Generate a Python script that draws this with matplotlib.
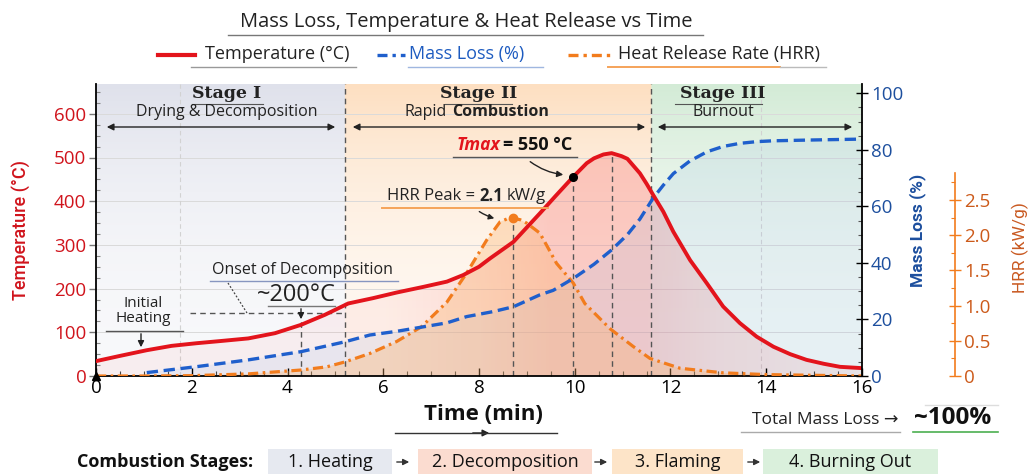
import numpy as np
import matplotlib
matplotlib.use("Agg")
import matplotlib.pyplot as plt
from matplotlib.ticker import MultipleLocator, FixedLocator, FixedFormatter
from matplotlib.patches import Rectangle, Polygon, FancyArrowPatch
from matplotlib.lines import Line2D

# ---------------- data ----------------
time_temp = [0.0, 0.5, 1.06, 1.58, 2.1, 2.6, 3.18, 3.74, 4.28, 4.78, 5.27, 5.78, 6.28,
             6.84, 7.33, 7.67, 8.0, 8.23, 8.72, 9.27, 9.6, 9.97, 10.25, 10.4, 10.6, 10.77,
             10.98, 11.1, 11.36, 11.5, 11.64, 11.85, 12.06, 12.41, 12.76, 13.1, 13.45,
             13.8, 14.15, 14.5, 14.84, 15.2, 15.54, 16.0]
temperature = [34, 46, 59, 69, 75, 80, 86, 98, 117, 140, 166, 178, 191,
               204, 216, 231, 250, 269, 307, 372, 412, 456, 487, 498, 507, 510,
               503, 497, 464, 440, 414, 376, 330, 265, 212, 159, 121,
               90, 67, 50, 37, 28, 21, 18]

time_mass = [1.06, 2.1, 3.18, 4.28, 5.2, 5.72, 6.28, 6.77, 7.33, 7.74, 8.3, 8.72, 9.27,
             9.55, 9.97, 10.4, 10.77, 11.1, 11.36, 11.64, 11.85, 12.06, 12.4, 12.76, 13.1,
             13.45, 13.8, 14.15, 15.0, 16.0]
mass_loss = [1.2, 3.3, 5.7, 8.6, 12.1, 14.5, 15.8, 17.2, 18.8, 21.0, 22.8, 24.5, 28.7,
             30.3, 34.5, 39.5, 44.6, 50.0, 55.5, 63.0, 67.5, 71.6, 76.0, 79.3, 81.2,
             82.3, 82.9, 83.2, 83.5, 83.8]

time_hrr = [0.0, 1.0, 2.0, 3.18, 4.28, 4.82, 5.2, 5.72, 6.28, 6.8, 7.33, 7.74, 8.16,
            8.44, 8.58, 8.72, 8.86, 9.0, 9.27, 9.41, 9.62, 9.97, 10.21, 10.74, 11.22,
            11.57, 12.2, 13.1, 14.0, 15.0, 16.0]
hrr = [0.0, 0.0, 0.005, 0.03, 0.085, 0.13, 0.2, 0.32, 0.49, 0.7, 1.05, 1.46, 1.93,
       2.19, 2.23, 2.24, 2.22, 2.17, 2.03, 1.86, 1.6, 1.32, 1.03, 0.67, 0.42,
       0.25, 0.11, 0.045, 0.02, 0.01, 0.0]

stage_bounds = [5.2, 11.6]
stage_titles = ["Stage I", "Stage II", "Stage III"]
stage_subtitles = ["Drying & Decomposition", "Rapid Combustion", "Burnout"]
temp_ticks = [0, 100, 200, 300, 400, 500, 600]
mass_ticks = [0, 20, 40, 60, 80, 100]
hrr_ticks = [0, 0.5, 1.0, 1.5, 2.0, 2.5]
hrr_tick_labels = ["0", "0.5", "1.0", "1.5", "2.0", "2.5"]
time_ticks = [0, 2, 4, 6, 8, 10, 12, 14, 16]
onset_time = 4.28
onset_temp = 144
tmax_mark_time = 9.97
bottom_steps = ["1. Heating", "2. Decomposition", "3. Flaming", "4. Burning Out"]

# ---------------- style ----------------
FONT = "Open Sans"
plt.rcParams["font.family"] = [FONT, "DejaVu Sans"]
RED = "#e3141c"
BLUE = "#1f5fcc"
ORANGE = "#f27c1d"
W, H = 1032, 474

fig = plt.figure(figsize=(W / 100, H / 100), dpi=100)
fig.patch.set_facecolor("white")
renderer = fig.canvas.get_renderer()


def F(x, y):
    return (x / W, 1 - y / H)


def ftext(x, y, s, **kw):
    ha = kw.pop("ha", "center")
    va = kw.pop("va", "center")
    return fig.text(*F(x, y), s, ha=ha, va=va, **kw)


def frun(x, y, parts, gap=4, **common):
    for s, kw in parts:
        t = ftext(x, y, s, ha="left", **common, **kw)
        x += t.get_window_extent(renderer=renderer).width + gap


def fline(x1, y1, x2, y2, **kw):
    fig.add_artist(Line2D([x1 / W, x2 / W], [1 - y1 / H, 1 - y2 / H],
                          transform=fig.transFigure, **kw))


def farrow(x1, y1, x2, y2, style="-|>", rad=0.0, **kw):
    fig.add_artist(FancyArrowPatch(
        F(x1, y1), F(x2, y2), transform=fig.transFigure, arrowstyle=style,
        connectionstyle=f"arc3,rad={rad}", **kw))


ax = fig.add_axes([96 / W, 1 - 376 / H, 766 / W, 292 / H])
ax2 = ax.twinx()
ax3 = ax.twinx()
T_MAX = 292 / 0.437
M_MAX = 292 / 2.827
H_MAX = 292 / 70.4

# ---------------- stage background gradients ----------------
nx, ny = 800, 200
tt = np.linspace(0, 16, nx)
fr = np.linspace(0, 1, ny)[:, None]
stage_cols = [np.array([0.875, 0.885, 0.925]),
              np.array([0.995, 0.875, 0.76]),
              np.array([0.83, 0.925, 0.84])]
col = np.where(tt[:, None] < stage_bounds[0], stage_cols[0],
               np.where(tt[:, None] < stage_bounds[1], stage_cols[1], stage_cols[2]))
bg = np.ones((ny, nx, 4))
bg[:, :, :3] = col[None, :, :]
bg[:, :, 3] = 0.22 + 0.78 * fr ** 2.2
ax.imshow(bg, extent=[0, 16, 0, T_MAX], origin="lower", aspect="auto",
          zorder=0, interpolation="bilinear")

# faint grid
for v in temp_ticks[1:]:
    ax.axhline(v, color="#dadada", lw=0.7, zorder=0.5)
for v in [1.75, 13.9]:
    ax.axvline(v, color="#d2d2d2", lw=0.8, ls=(0, (4, 3)), zorder=0.5)

# ---------------- fills ----------------
tg = np.zeros((ny, nx, 4))
tg[:, :, 0], tg[:, :, 1], tg[:, :, 2] = 0.97, 0.45, 0.45
tg[:, :, 3] = np.interp(tt, [0, 6, 8, 9.5, 11.5, 13, 16],
                        [0.08, 0.08, 0.18, 0.32, 0.32, 0.22, 0.12])[None, :]
im_t = ax.imshow(tg, extent=[0, 16, 0, T_MAX], origin="lower", aspect="auto",
                 zorder=1, interpolation="bilinear")
poly_t = Polygon(np.column_stack([time_temp + [16, 0], temperature + [0, 0]]),
                 closed=True, fc="none", ec="none", transform=ax.transData)
ax.add_patch(poly_t)
im_t.set_clip_path(poly_t)

ax.add_patch(Polygon(np.column_stack([time_mass + [16, time_mass[0]], mass_loss + [0, 0]]),
                     closed=True, fc="#8fb5e8", ec="none", alpha=0.14,
                     transform=ax2.transData, zorder=1.5))
ax.add_patch(Polygon(np.column_stack([time_hrr + [16, 0], hrr + [0, 0]]),
                     closed=True, fc="#fbb26b", ec="none", alpha=0.33,
                     transform=ax3.transData, zorder=1.6))

# ---------------- guide lines ----------------
GUIDE = dict(color="#555555", lw=1.0, ls=(0, (4, 3)), zorder=2)
for b in stage_bounds:
    ax.plot([b, b], [0, T_MAX], **GUIDE)
i_h = int(np.argmax(hrr))
t_hpk, h_pk = time_hrr[i_h], hrr[i_h]
ax.plot([t_hpk, t_hpk], [0, h_pk], transform=ax3.transData, **GUIDE)
T_mark = float(np.interp(tmax_mark_time, time_temp, temperature))
ax.plot([tmax_mark_time] * 2, [0, T_mark], **GUIDE)
i_t = int(np.argmax(temperature))
ax.plot([time_temp[i_t]] * 2, [0, temperature[i_t]], **GUIDE)
ax.plot([onset_time] * 2, [0, 125], **GUIDE)
ax.plot([1.96, stage_bounds[0]], [onset_temp, onset_temp], **GUIDE)

# ---------------- curves ----------------
ax.plot(time_hrr, hrr, color=ORANGE, lw=2.3, dashes=(3.2, 1.4, 0.8, 1.4),
        transform=ax3.transData, zorder=5)
ax.plot(time_mass, mass_loss, color=BLUE, lw=2.4, dashes=(3.4, 1.7),
        transform=ax2.transData, zorder=5)
ax.plot(time_temp, temperature, color=RED, lw=2.8, zorder=6,
        solid_capstyle="round", solid_joinstyle="round")
ax.plot([t_hpk], [h_pk], "o", color=ORANGE, ms=6, transform=ax3.transData, zorder=7)
ax.plot([tmax_mark_time], [T_mark], "o", color="black", ms=5.5, zorder=7)

# ---------------- axes / limits / ticks ----------------
ax.set_xlim(0, 16)
ax.set_ylim(0, T_MAX)
ax2.set_ylim(0, M_MAX)
ax3.set_ylim(0, H_MAX)

for s in ["top", "right"]:
    ax.spines[s].set_visible(False)
for s in ["left", "bottom"]:
    ax.spines[s].set_color("black")
    ax.spines[s].set_linewidth(1.3)
for s in ["left", "top", "bottom"]:
    ax2.spines[s].set_visible(False)
    ax3.spines[s].set_visible(False)
ax2.spines["right"].set_color("black")
ax2.spines["right"].set_linewidth(1.3)
ax3.spines["right"].set_position(("axes", (955 - 96) / 766))
ax3.spines["right"].set_color(ORANGE)
ax3.spines["right"].set_linewidth(1.2)
ax3.spines["right"].set_bounds(0, 2.88)
ax.plot([0], [1.0], marker="^", color="black", ms=6, transform=ax.get_yaxis_transform(),
        clip_on=False, zorder=10)

ax.set_xticks(time_ticks)
ax.xaxis.set_minor_locator(MultipleLocator(0.5))
ax.tick_params(axis="x", which="major", direction="in", length=6, width=1,
               labelsize=13.5, pad=2, colors="black")
ax.tick_params(axis="x", which="minor", direction="in", length=3.5, width=0.8, color="#444")

ax.set_yticks(temp_ticks)
ax.yaxis.set_minor_locator(MultipleLocator(25))
ax.tick_params(axis="y", which="major", direction="out", length=5, width=1,
               color="#777777", labelcolor="#d0141c", labelsize=13.5, pad=2)
ax.tick_params(axis="y", which="minor", direction="in", length=3, width=0.8, color="#888")

ax2.set_yticks(mass_ticks)
ax2.yaxis.set_minor_locator(MultipleLocator(5))
ax2.tick_params(axis="y", which="major", direction="inout", length=9, width=1,
                color="black", labelcolor="#1d4f9e", labelsize=13.5, pad=2)
ax2.tick_params(axis="y", which="minor", direction="in", length=3, width=0.8, color="#555")

ax3.yaxis.set_major_locator(FixedLocator(hrr_ticks))
ax3.yaxis.set_major_formatter(FixedFormatter(hrr_tick_labels))
ax3.yaxis.set_minor_locator(FixedLocator([0.25, 0.75, 1.25, 1.75, 2.25, 2.75]))
ax3.tick_params(axis="y", which="major", direction="inout", length=9, width=1,
                color=ORANGE, labelcolor="#cc5a1a", labelsize=13.5, pad=2)
ax3.tick_params(axis="y", which="minor", direction="in", length=3, width=0.8, color=ORANGE)

# axis labels
ftext(22, 230, "Temperature (°C)", rotation=90, color="#d0141c", fontsize=13,
      fontweight="medium", family=["Roboto", "DejaVu Sans"])
ftext(918, 230, "Mass Loss (%)", rotation=90, color="#1d4f9e", fontsize=12.5,
      fontweight="bold", family=["Roboto", "DejaVu Sans"])
ftext(1020, 248, "HRR (kW/g)", rotation=90, color="#c95a22", fontsize=12.5,
      family=["Roboto", "DejaVu Sans"])
ftext(483, 414, "Time (min)", fontsize=16, fontweight="bold", color="#111")
fline(395, 433, 557, 433, color="#333333", lw=1.0)
farrow(470, 433, 492, 433, style="-|>", mutation_scale=10, color="#222", lw=1.0)

# ---------------- title and legend ----------------
ftext(466, 22, "Mass Loss, Temperature & Heat Release vs Time", fontsize=14.5, color="#222")
fline(228, 35, 703, 35, color="#777777", lw=1.0)

fline(158, 55, 195, 55, color=RED, lw=3)
ftext(205, 54, "Temperature (°C)", ha="left", fontsize=13, color="#222")
fline(191, 67, 356, 67, color="#999999", lw=1.0)
fig.add_artist(Line2D([377 / W, 405 / W], [1 - 55 / H] * 2, transform=fig.transFigure,
                      color=BLUE, lw=2.4, dashes=(3, 1.5, 1, 1.5)))
ftext(409, 54, "Mass Loss (%)", ha="left", fontsize=13, color="#1d5bc0")
fline(408, 67, 543, 67, color="#9fb7e0", lw=1.0)
fig.add_artist(Line2D([568 / W, 610 / W], [1 - 55 / H] * 2, transform=fig.transFigure,
                      color=ORANGE, lw=2.4, dashes=(3, 1.5, 1, 1.5)))
ftext(618, 54, "Heat Release Rate (HRR)", ha="left", fontsize=13, color="#222")
fline(608, 67, 780, 67, color="#f5a35a", lw=1.4)
fline(780, 67, 826, 67, color="#bbbbbb", lw=1.0)

# ---------------- stage headers ----------------
SERIF = ["DejaVu Serif"]
centers = [227, 479, 723]
for cx, ttl, sub in zip(centers, stage_titles, stage_subtitles):
    ftext(cx, 94, ttl, fontsize=12.5, fontweight="bold", family=SERIF, color="#222")
    if ttl != "Stage II":
        ftext(cx, 112, sub, fontsize=11.5, color="#222")
fline(192, 104, 263, 104, color="#555", lw=0.8)
fline(445, 104, 512, 104, color="#555", lw=0.8)
fline(675, 104, 762, 104, color="#555", lw=0.8)
frun(405, 112, [("Rapid", {}), ("Combustion", {"fontweight": "bold"})], gap=5,
     fontsize=11.5, color="#222")
for x1, x2 in [(104, 338), (350, 648), (655, 855)]:
    farrow(x1, 127, x2, 127, style="<|-|>", mutation_scale=10, color="#222", lw=1.0)

# ---------------- annotations ----------------
ftext(302, 270, "Onset of Decomposition", fontsize=11.5, color="#222")
fline(210, 281, 398, 281, color="#8796c0", lw=1.0)
fline(228, 283, 247, 313, color="#444", lw=0.9, ls=(0, (1.5, 1.5)))
ftext(296, 295, "~200°C", fontsize=17, color="#222")
fline(268, 306, 335, 306, color="#777", lw=1.0)
farrow(301, 306, 301, 322, style="-|>", mutation_scale=9, color="#222", lw=1.0)

ftext(143, 311, "Initial\nHeating", fontsize=11, color="#222", linespacing=1.05)
fline(106, 331, 183, 331, color="#555", lw=1.0)
farrow(141, 331, 141, 350, style="-|>", mutation_scale=9, color="#222", lw=1.0)

ftext(500, 145, "Tmax", ha="right", fontsize=12.5, fontweight="bold", fontstyle="italic",
      color=RED)
ftext(503, 145, "= 550 °C", ha="left", fontsize=13, fontweight="bold", color="#111")
fline(453, 157, 577, 157, color="#555", lw=1.0)
farrow(528, 160, 566, 175, style="-|>", rad=0.15, mutation_scale=9, color="#222", lw=1.0)

frun(387, 196, [("HRR Peak =", {}), ("2.1", {"fontweight": "bold"}), ("kW/g", {})],
     gap=4, fontsize=12, color="#222")
fline(382, 208, 548, 208, color="#f5a35a", lw=1.4)
farrow(477, 210, 497, 219, style="-|>", rad=0.1, mutation_scale=8, color="#222", lw=1.0)

# ---------------- bottom summary ----------------
ftext(898, 420, "Total Mass Loss →", ha="right", fontsize=12.5, color="#222")
ftext(953, 418, "~100%", fontsize=17.5, fontweight="bold", color="#111")
fline(741, 432, 900, 432, color="#aaaaaa", lw=1.0)
fline(913, 432, 998, 432, color="#4caf50", lw=1.2)
fline(925, 405, 998, 405, color="#dddddd", lw=1.0)

ftext(253, 462, "Combustion Stages:", ha="right", fontsize=13, fontweight="bold",
      color="#111")
boxes = [(268, 392, "#e6e9f0"), (418, 592, "#fbdcd0"), (612, 743, "#fde4c8"),
         (763, 938, "#daf0dc")]
for (x1, x2, c), lab in zip(boxes, bottom_steps):
    fig.add_artist(Rectangle(F(x1, 474), (x2 - x1) / W, 25 / H, transform=fig.transFigure,
                             fc=c, ec="none", zorder=0))
    ftext((x1 + x2) / 2, 462, lab, fontsize=13, color="#111")
for xa in [403, 601, 754]:
    farrow(xa - 9, 462, xa + 9, 462, style="-|>", mutation_scale=9, color="#333", lw=1.0)

fig.savefig("out.png", dpi=100, facecolor="white")
